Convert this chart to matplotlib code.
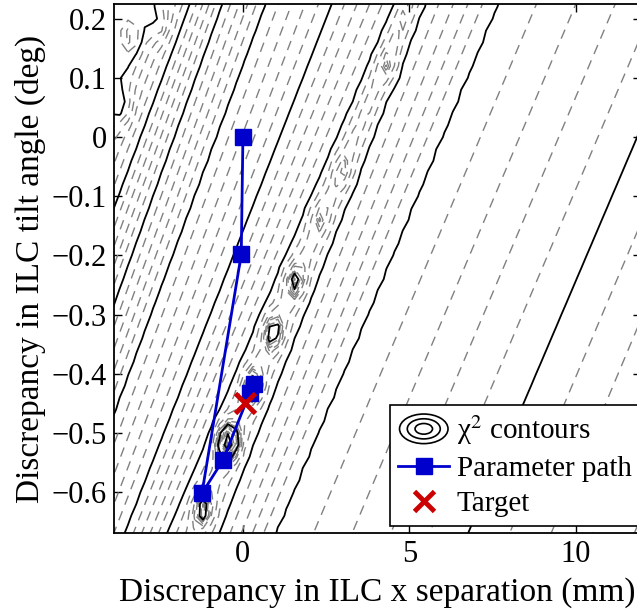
import numpy as np
import matplotlib
matplotlib.use('Agg')
import matplotlib.pyplot as plt
from matplotlib.legend_handler import HandlerBase
from matplotlib.patches import Ellipse
from matplotlib.lines import Line2D

plt.rcParams['font.family'] = ['Liberation Serif', 'DejaVu Serif']
plt.rcParams['mathtext.fontset'] = 'stix'

line_x_top = [-2.70, -1.59, -0.63, 0.66, 2.67, 4.56, 5.44, 7.63, 13.54, 19.5]
line_x_bottom = [-9.07, -7.48, -6.34, -5.20, -3.54, -2.28, -0.72, 0.96, 6.76, 13.0]
line_level = [6, 5, 4, 3, 2, 1, 1, 2, 3, 4]
valley_level = 0.45

# local dips / bumps of the chi^2 surface (x mm, y deg, change in level)
bump_x = [1.56, 0.90, 0.30, -0.45, -1.20, 4.35, 3.00, 2.30, -3.40, -2.50, -3.60]
bump_y = [-0.242, -0.330, -0.420, -0.515, -0.630, 0.120, -0.060, -0.135, 0.17, 0.19, 0.05]
bump_a = [-0.75, -0.85, -0.85, -2.1, -0.8, -0.35, -0.35, -0.35, 0.5, 0.4, 0.4]

# optimisation path and target
path_x = [0.0, -0.05, -1.23, -0.60, 0.20, 0.33]
path_y = [0.0, -0.198, -0.602, -0.546, -0.433, -0.417]
target_x = [0.05]
target_y = [-0.449]

y_top, y_bot = 0.225, -0.669
xg = np.arange(-4.2, 12.3, 0.25)
yg = np.arange(-0.70, 0.25, 0.02)
X, Y = np.meshgrid(xg, yg)

xt = np.array(line_x_top)
xb = np.array(line_x_bottom)
lev = np.array(line_level, dtype=float)
V = np.zeros_like(X)
for i, yy in enumerate(yg):
    t = (y_top - yy) / (y_top - y_bot)
    pos = xt + (xb - xt) * t
    mid = 0.5 * (pos[5] + pos[6])
    p = np.concatenate([[pos[0] - 20], pos[:6], [mid], pos[6:], [pos[-1] + 20]])
    l = np.concatenate([[lev[0] + 1], lev[:6], [valley_level], lev[6:], [lev[-1] + 1]])
    V[i] = np.interp(xg, p, l)
for bx, by, ba in zip(bump_x, bump_y, bump_a):
    V += ba * np.exp(-((X - bx) / 0.27) ** 2 - ((Y - by) / 0.027) ** 2)

solid_levels = np.arange(-2, 9)
dashed_levels = [k * 0.2 for k in range(-10, 45) if k % 5] + [-0.1, 0.1, 0.3]
dashed_levels = sorted(dashed_levels)

fig = plt.figure(figsize=(6.37, 6.10), dpi=100)
ax = fig.add_axes([114 / 637, 77 / 610, (641 - 114) / 637, 529 / 610])

ax.contour(X, Y, V, levels=dashed_levels, colors=[(0.5, 0.5, 0.5)],
           linewidths=1.0, linestyles=[(0, (7, 5))])
ax.contour(X, Y, V, levels=solid_levels, colors='k', linewidths=1.3,
           linestyles='solid')

ax.plot(path_x, path_y, '-s', color=(0, 0, 0.8), lw=2, ms=11,
        mec=(0, 0, 0.8), zorder=5)
ax.plot(target_x, target_y, 'x', color=(0.8, 0, 0), ms=15, mew=3.5, zorder=6)

ax.set_xlim(-3.87, 11.95)
ax.set_ylim(y_bot, y_top)
ax.set_xticks([0, 5, 10])
ax.set_xticklabels(['0', '5', '10'])
yt = [0.2, 0.1, 0, -0.1, -0.2, -0.3, -0.4, -0.5, -0.6]
ax.set_yticks(yt)
ax.set_yticklabels(['0.2', '0.1', '0', '\u22120.1', '\u22120.2', '\u22120.3',
                    '\u22120.4', '\u22120.5', '\u22120.6'])
ax.tick_params(direction='in', length=6, width=1, labelsize=22,
               top=True, right=True, pad=5)
for s in ax.spines.values():
    s.set_linewidth(1.3)
ax.set_xlabel('Discrepancy in ILC x separation (mm)', fontsize=24, labelpad=6)
ax.set_ylabel('Discrepancy in ILC tilt angle (deg)', fontsize=24, labelpad=4)


class ContourHandler(HandlerBase):
    def create_artists(self, legend, orig_handle, xdescent, ydescent,
                       width, height, fontsize, trans):
        cx = width / 2 - xdescent
        cy = height / 2 - ydescent
        arts = []
        for s in (1.0, 0.68, 0.36):
            arts.append(Ellipse((cx, cy), width * 0.95 * s, height * 1.45 * s,
                                fill=False, ec='k', lw=1.2, transform=trans))
        return arts


cproxy = Line2D([], [])
h_path = Line2D([], [], color=(0, 0, 0.8), lw=2, marker='s', ms=11)
h_tgt = Line2D([], [], color=(0.8, 0, 0), lw=0, marker='x', ms=15, mew=3.5)
leg = ax.legend([cproxy, h_path, h_tgt],
                ['\u03c7$^2$ contours', 'Parameter path', 'Target'],
                handler_map={cproxy: ContourHandler()},
                loc='lower right', bbox_to_anchor=(0.9985, 0.013),
                fontsize=21, fancybox=False, framealpha=1, edgecolor='k',
                handlelength=1.75, handletextpad=0.25, borderpad=0.3,
                labelspacing=0.3, borderaxespad=0)
leg.get_frame().set_linewidth(1.2)

fig.savefig('out.png', dpi=100)
